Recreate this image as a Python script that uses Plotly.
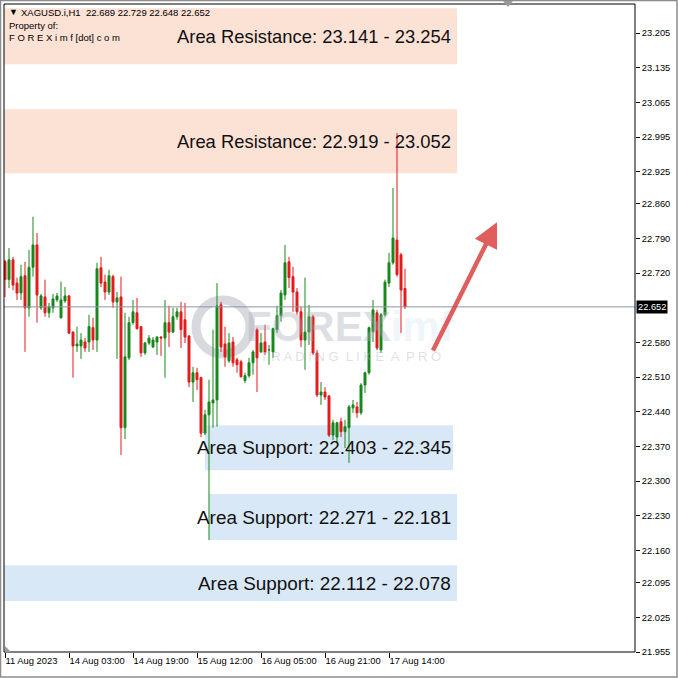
import plotly.graph_objects as go

# ---------------- data (XAGUSD.i, H1) ----------------
opens = [
    22.743, 22.707, 22.747, 22.700, 22.680, 22.715, 22.650, 22.732, 22.777, 22.650,
    22.672, 22.640, 22.650, 22.666, 22.630, 22.664, 22.674, 22.601, 22.573, 22.573,
    22.581, 22.581, 22.610, 22.585, 22.731, 22.702, 22.682, 22.713, 22.662, 22.672,
    22.408, 22.549, 22.620, 22.640, 22.612, 22.559, 22.579, 22.571, 22.581, 22.591,
    22.589, 22.620, 22.601, 22.632, 22.642, 22.626, 22.593, 22.500, 22.519, 22.509,
    22.397, 22.434, 22.458, 22.464, 22.656, 22.577, 22.543, 22.581, 22.545, 22.541,
    22.503, 22.513, 22.539, 22.606, 22.561, 22.581, 22.565, 22.561, 22.606, 22.634,
    22.676, 22.743, 22.713, 22.682, 22.642, 22.585, 22.601, 22.632, 22.559, 22.474,
    22.480, 22.472, 22.393, 22.389, 22.420, 22.400, 22.408, 22.448, 22.450, 22.438,
    22.494, 22.519, 22.602, 22.640, 22.565, 22.636, 22.700, 22.741, 22.787, 22.757,
    22.689]
highs = [
    22.747, 22.771, 22.753, 22.711, 22.737, 22.743, 22.767, 22.834, 22.801, 22.678,
    22.707, 22.660, 22.678, 22.680, 22.703, 22.692, 22.676, 22.603, 22.612, 22.599,
    22.589, 22.636, 22.630, 22.741, 22.753, 22.717, 22.727, 22.717, 22.682, 22.713,
    22.640, 22.632, 22.666, 22.670, 22.612, 22.581, 22.595, 22.591, 22.593, 22.593,
    22.666, 22.654, 22.650, 22.650, 22.662, 22.660, 22.595, 22.531, 22.529, 22.511,
    22.444, 22.505, 22.606, 22.700, 22.662, 22.612, 22.599, 22.591, 22.549, 22.545,
    22.519, 22.549, 22.565, 22.610, 22.599, 22.616, 22.575, 22.610, 22.654, 22.686,
    22.777, 22.753, 22.733, 22.690, 22.652, 22.711, 22.656, 22.636, 22.565, 22.500,
    22.490, 22.474, 22.424, 22.420, 22.428, 22.424, 22.454, 22.464, 22.460, 22.498,
    22.521, 22.612, 22.666, 22.646, 22.640, 22.707, 22.761, 22.892, 23.003, 22.761,
    22.729]
lows = [
    22.672, 22.690, 22.686, 22.666, 22.666, 22.561, 22.632, 22.713, 22.620, 22.646,
    22.632, 22.630, 22.640, 22.662, 22.628, 22.660, 22.597, 22.509, 22.561, 22.547,
    22.561, 22.561, 22.565, 22.561, 22.692, 22.666, 22.676, 22.650, 22.547, 22.353,
    22.385, 22.545, 22.616, 22.606, 22.551, 22.555, 22.575, 22.569, 22.555, 22.553,
    22.509, 22.571, 22.599, 22.626, 22.569, 22.579, 22.490, 22.460, 22.484, 22.389,
    22.393, 22.181, 22.408, 22.410, 22.561, 22.531, 22.539, 22.531, 22.519, 22.509,
    22.498, 22.509, 22.515, 22.480, 22.559, 22.555, 22.535, 22.549, 22.599, 22.622,
    22.666, 22.690, 22.642, 22.636, 22.571, 22.525, 22.575, 22.555, 22.470, 22.454,
    22.464, 22.389, 22.383, 22.379, 22.389, 22.367, 22.337, 22.438, 22.428, 22.434,
    22.478, 22.515, 22.581, 22.565, 22.559, 22.632, 22.692, 22.737, 22.713, 22.599,
    22.648]
closes = [
    22.707, 22.747, 22.696, 22.680, 22.713, 22.650, 22.732, 22.777, 22.676, 22.674,
    22.640, 22.652, 22.668, 22.674, 22.666, 22.674, 22.599, 22.573, 22.577, 22.585,
    22.569, 22.612, 22.585, 22.729, 22.700, 22.682, 22.715, 22.662, 22.670, 22.408,
    22.551, 22.620, 22.642, 22.608, 22.559, 22.579, 22.589, 22.585, 22.591, 22.589,
    22.620, 22.601, 22.632, 22.642, 22.606, 22.591, 22.500, 22.519, 22.505, 22.397,
    22.434, 22.460, 22.464, 22.654, 22.571, 22.551, 22.579, 22.539, 22.535, 22.511,
    22.513, 22.539, 22.561, 22.549, 22.579, 22.561, 22.565, 22.608, 22.634, 22.680,
    22.741, 22.711, 22.682, 22.642, 22.585, 22.601, 22.632, 22.559, 22.474, 22.480,
    22.470, 22.393, 22.418, 22.418, 22.400, 22.410, 22.450, 22.454, 22.438, 22.494,
    22.519, 22.610, 22.646, 22.569, 22.636, 22.702, 22.741, 22.791, 22.717, 22.686,
    22.652]

time_tick_bars = [0, 16, 32, 48, 64, 80, 96]
time_tick_labels = ["11 Aug 2023", "14 Aug 03:00", "14 Aug 19:00", "15 Aug 12:00",
                    "16 Aug 05:00", "16 Aug 21:00", "17 Aug 14:00"]

price_ticks = [21.955, 22.025, 22.095, 22.160, 22.230, 22.300, 22.370, 22.440, 22.510,
               22.580, 22.720, 22.790, 22.860, 22.925, 22.995, 23.065, 23.135, 23.205]
price_tick_labels = ["21.955", "22.025", "22.095", "22.160", "22.230", "22.300", "22.370",
                     "22.440", "22.510", "22.580", "22.720", "22.790", "22.860", "22.925",
                     "22.995", "23.065", "23.135", "23.205"]

symbol = "XAGUSD.i,H1"
last_price = 22.652

zone_labels = ["Area Resistance: 23.141 - 23.254", "Area Resistance: 22.919 - 23.052",
               "Area Support: 22.403 - 22.345", "Area Support: 22.271 - 22.181",
               "Area Support: 22.112 - 22.078"]
zone_top = [23.255, 23.051, 22.413, 22.274, 22.130]
zone_bottom = [23.142, 22.922, 22.322, 22.181, 22.058]
zone_start_bar = [0, 0, 50, 51, 0]
zone_end_bar = [113, 113, 112, 113, 113]
zone_kind = ["res", "res", "sup", "sup", "sup"]

# ---------------- styling ----------------
W, H = 678, 678
ML, MR, MT, MB = 4, 43, 4, 26
PW, PH = W - ML - MR, H - MT - MB
GREEN = "#17871b"
RED = "#e31b1b"
RES_FILL = "#fce1d5"
SUP_FILL = "#d9e8f7"
FONT = "Liberation Sans, Arial, sans-serif"
LABEL_RIGHT = 112  # right edge of zone texts, in bar units


def pxx(px):
    return (px - ML) / PW


def pxy(py):
    return (H - MB - py) / PH


bars = list(range(len(opens)))

fig = go.Figure()
fig.add_trace(go.Candlestick(
    x=bars, open=opens, high=highs, low=lows, close=closes,
    increasing=dict(line=dict(color=GREEN, width=1), fillcolor=GREEN),
    decreasing=dict(line=dict(color=RED, width=1), fillcolor=RED),
    whiskerwidth=0, hoverinfo="skip", showlegend=False))

shapes = []
annotations = []

# zones
for lab, top, bot, s, e, k in zip(zone_labels, zone_top, zone_bottom,
                                   zone_start_bar, zone_end_bar, zone_kind):
    shapes.append(dict(type="rect", xref="x", yref="y", x0=s if s > 0 else -1, x1=e,
                       y0=bot, y1=top,
                       fillcolor=RES_FILL if k == "res" else SUP_FILL,
                       line=dict(width=0), layer="below"))
    annotations.append(dict(xref="x", yref="y", x=LABEL_RIGHT, y=(top + bot) / 2,
                            text=lab, showarrow=False, xanchor="right", yanchor="middle",
                            font=dict(family=FONT, size=18.4 if k == "res" else 18.9,
                                      color="#111111")))

# watermark logo
shapes.append(dict(type="circle", xref="paper", yref="paper",
                   x0=pxx(196), x1=pxx(250), y0=pxy(354), y1=pxy(300),
                   line=dict(color="rgba(175,180,192,0.5)", width=9), layer="below"))
annotations.append(dict(xref="paper", yref="paper", x=pxx(244), y=pxy(326),
                        text="<b>FOREX</b><span style='color:rgba(170,205,235,0.5)'><b>imf</b></span>",
                        showarrow=False, xanchor="left", yanchor="middle",
                        font=dict(family=FONT, size=42, color="rgba(165,170,185,0.38)")))
annotations.append(dict(xref="paper", yref="paper", x=pxx(258), y=pxy(356),
                        text="T R A D I N G  L I K E  A  P R O", showarrow=False,
                        xanchor="left", yanchor="middle",
                        font=dict(family=FONT, size=13, color="rgba(175,180,190,0.42)")))

# current price line
shapes.append(dict(type="line", xref="paper", yref="y", x0=0, x1=1, y0=last_price,
                   y1=last_price, line=dict(color="#8a95a2", width=1)))

# plot frame & window frame
shapes.append(dict(type="rect", xref="paper", yref="paper", x0=0, x1=1, y0=0, y1=1,
                   line=dict(color="black", width=1)))
shapes.append(dict(type="rect", xref="paper", yref="paper", x0=pxx(0.5), x1=pxx(677),
                   y0=pxy(677), y1=pxy(0.5), line=dict(color="#8c8c8c", width=1.5)))
# small chart-shift markers
shapes.append(dict(type="path", xref="paper", yref="paper",
                   path=f"M {pxx(503)} {pxy(1)} L {pxx(513)} {pxy(1)} L {pxx(508)} {pxy(7)} Z",
                   fillcolor="#9a9a9a", line=dict(width=0)))
shapes.append(dict(type="path", xref="paper", yref="paper",
                   path=f"M {pxx(5)} {pxy(646)} L {pxx(5)} {pxy(652)} L {pxx(11)} {pxy(652)} Z",
                   fillcolor="#9a9a9a", line=dict(width=0)))

# arrow
annotations.append(dict(xref="x", yref="y", axref="x", ayref="y",
                        x=123, y=22.823, ax=106.8, ay=22.561, text="",
                        showarrow=True, arrowhead=2, arrowsize=1.1, arrowwidth=4.5,
                        arrowcolor="rgba(220,72,72,0.88)"))

# header
hdr = f"{symbol}  {opens[-1]:.3f} {highs[-1]:.3f} {lows[-1]:.3f} {closes[-1]:.3f}"
annotations.append(dict(xref="paper", yref="paper", x=pxx(7), y=pxy(12), text="▼",
                        showarrow=False, xanchor="left", yanchor="middle",
                        font=dict(family=FONT, size=9, color="black")))
annotations.append(dict(xref="paper", yref="paper", x=pxx(19), y=pxy(12), text=hdr,
                        showarrow=False, xanchor="left", yanchor="middle",
                        font=dict(family=FONT, size=9.5, color="black")))
annotations.append(dict(xref="paper", yref="paper", x=pxx(7), y=pxy(25), text="Property of:",
                        showarrow=False, xanchor="left", yanchor="middle",
                        font=dict(family=FONT, size=9.5, color="black")))
annotations.append(dict(xref="paper", yref="paper", x=pxx(7), y=pxy(37),
                        text="F O R E X i m f [dot] c o m",
                        showarrow=False, xanchor="left", yanchor="middle",
                        font=dict(family=FONT, size=9.5, color="black")))

# current price label
annotations.append(dict(xref="paper", yref="y", x=1, y=last_price, xshift=1,
                        text=f"{last_price:.3f}", showarrow=False, xanchor="left",
                        yanchor="middle", bgcolor="black", borderpad=1,
                        font=dict(family=FONT, size=9.3, color="white")))

fig.update_layout(
    width=W, height=H, margin=dict(l=ML, r=MR, t=MT, b=MB, autoexpand=False),
    paper_bgcolor="white", plot_bgcolor="white", showlegend=False,
    shapes=shapes, annotations=annotations, hovermode=False,
    xaxis=dict(range=[-0.25, 157.5], tickmode="array", tickvals=time_tick_bars,
               ticktext=time_tick_labels, ticks="outside", ticklen=5, tickcolor="black",
               ticklabelposition="outside right", tickangle=0, automargin=False,
               showgrid=False, zeroline=False,
               showline=False, rangeslider=dict(visible=False),
               tickfont=dict(family=FONT, size=9.4, color="black")),
    yaxis=dict(range=[21.955, 23.2636], side="right", tickmode="array",
               tickvals=price_ticks, ticktext=price_tick_labels, ticks="outside",
               ticklen=4, tickcolor="black", automargin=False, showgrid=False,
               zeroline=False, showline=False,
               tickfont=dict(family=FONT, size=9.3, color="black")),
)

fig.write_html("out.html", config={"displayModeBar": False},
               post_script="document.body.style.margin='0';document.body.style.overflow='hidden';")
